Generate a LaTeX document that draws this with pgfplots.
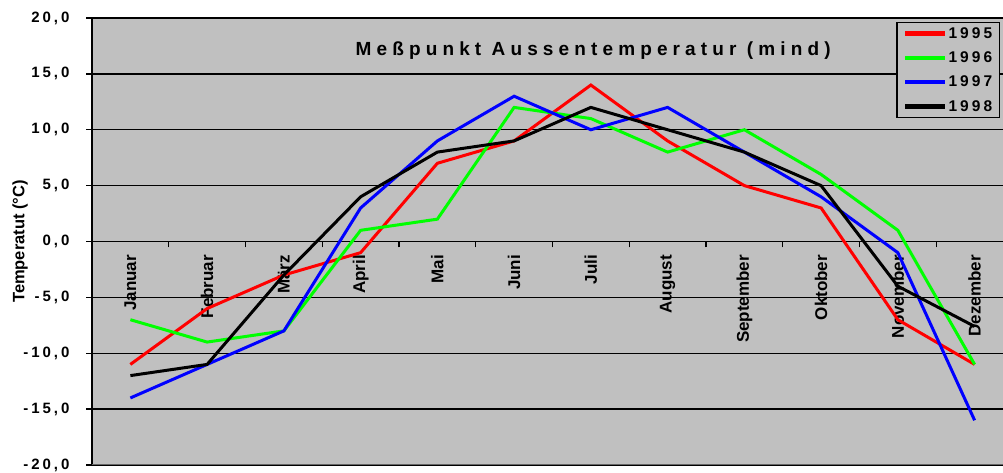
\documentclass[border=0pt]{standalone}
\usepackage{fontspec}
\setmainfont{Liberation Sans}
\newfontfamily\spaced[LetterSpace=20]{Liberation Sans}
\newfontfamily\titlefont[LetterSpace=27]{Liberation Sans}
\usepackage{pgfplots}
\pgfplotsset{compat=1.18}
\definecolor{plotgray}{HTML}{C0C0C0}
\definecolor{myred}{HTML}{FF0000}
\definecolor{mygreen}{HTML}{00FF00}
\definecolor{myblue}{HTML}{0000FF}
\begin{document}
\begin{tikzpicture}
\begin{axis}[
  at={(92pt,8pt)}, anchor=south west,
  scale only axis, width=911pt, height=447pt,
  xmin=-0.5, xmax=11.37, ymin=-20, ymax=20,
  axis background/.style={fill=plotgray},
  axis x line*=middle, axis y line*=left,
  x axis line style={line width=1.4pt},
  y axis line style={line width=2.4pt},
  xtick={0.5,1.5,...,10.5}, xticklabels={},
  extra x ticks={0,1,2,3,4,5,6,7,8,9,10,11},
  extra x tick labels={Januar,Februar,März,April,Mai,Juni,Juli,August,September,Oktober,November,Dezember},
  extra x tick style={major tick length=0pt, grid=none,
     tick label style={rotate=90, anchor=east, xshift=-10pt, font=\bfseries\fontsize{17}{17}\selectfont}},
  tick align=outside,
  major tick length=6pt,
  tick style={black, line width=1.4pt},
  ytick={-20,-15,...,20},
  ymajorgrids,
  grid style={black, line width=1.4pt},
  yticklabel style={font=\spaced\bfseries\fontsize{15}{15}\selectfont, xshift=-13pt},
  /pgf/number format/.cd, fixed, fixed zerofill, precision=1, use comma, assume math mode=true,
  /pgfplots/.cd,
  ylabel={Temperatut (°C)},
  ylabel style={at={(rel axis cs:0,0.5)}, anchor=center, yshift=72pt, font=\bfseries\fontsize{16.5}{16.5}\selectfont},
  legend style={at={(axis cs:11.33,19.67)}, anchor=north east, fill=plotgray, draw=black, line width=1.3pt,
     font=\spaced\bfseries\fontsize{15.5}{15.5}\selectfont, inner xsep=6pt, inner ysep=4pt, row sep=10pt,
     nodes={inner sep=1pt}},
  legend cell align=left,
  legend image code/.code={\draw[#1, line width=4.5pt] (0pt,0pt) -- (40pt,0pt);},
]
\addplot[myred, line width=3pt] coordinates {(0,-11) (1,-6) (2,-3) (3,-1) (4,7) (5,9) (6,14) (7,9) (8,5) (9,3) (10,-7) (11,-11)};
\addplot[mygreen, line width=3pt] coordinates {(0,-7) (1,-9) (2,-8) (3,1) (4,2) (5,12) (6,11) (7,8) (8,10) (9,6) (10,1) (11,-11)};
\addplot[myblue, line width=3pt] coordinates {(0,-14) (1,-11) (2,-8) (3,3) (4,9) (5,13) (6,10) (7,12) (8,8) (9,4) (10,-1) (11,-16)};
\addplot[black, line width=3pt] coordinates {(0,-12) (1,-11) (2,-3) (3,4) (4,8) (5,9) (6,12) (7,10) (8,8) (9,5) (10,-4) (11,-7.6)};
\legend{1995,1996,1997,1998}
\draw[gray!80!black, line width=1.6pt] (rel axis cs:0,0) -- (rel axis cs:1,0);
\node[font=\titlefont\bfseries\fontsize{19}{19}\selectfont] at (axis cs:6.03,17.1) {Meßpunkt Aussentemperatur (mind)};
\end{axis}
\pgfresetboundingbox
\useasboundingbox (0,0) rectangle (1003pt,473pt);
\end{tikzpicture}
\end{document}
